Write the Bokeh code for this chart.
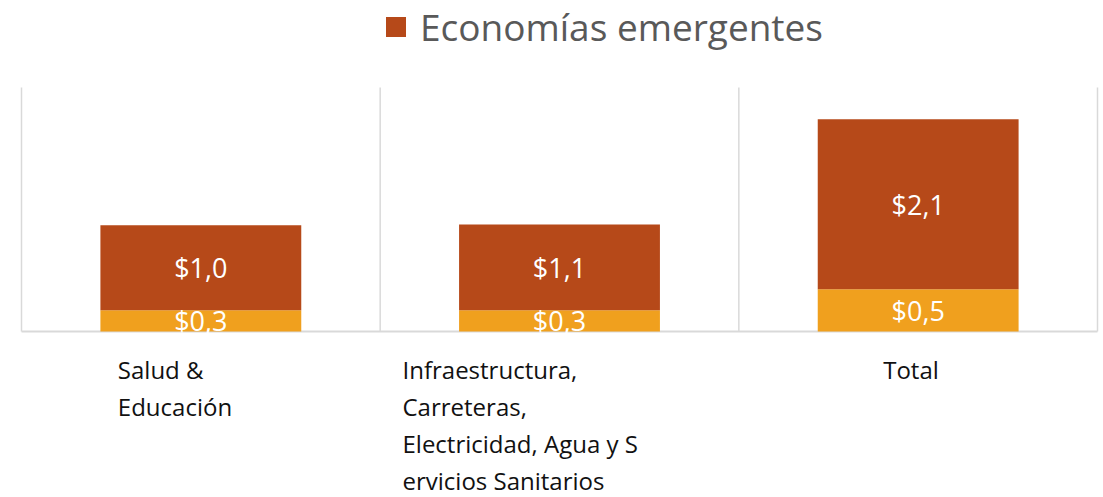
from bokeh.plotting import figure
from bokeh.models import ColumnDataSource, Range1d, Legend, LegendItem
from bokeh.core.properties import value
from bokeh.embed import file_html
from bokeh.resources import INLINE

# ---- data ----
categories = [
    "Salud &\nEducación",
    "Infraestructura,\nCarreteras,\nElectricidad, Agua y S\nervicios Sanitarios",
    "Total",
]
base_values = [0.26, 0.26, 0.52]
emerging_values = [1.045, 1.055, 2.09]
emerging_name = "Economías emergentes"
y_max = 3.0


def fmt(v):
    return "$" + f"{v:.1f}".replace(".", ",")


n = len(categories)
xs = [i + 0.5 for i in range(n)]
tops = [b + e for b, e in zip(base_values, emerging_values)]

src = ColumnDataSource(dict(
    x=xs,
    base=base_values,
    top=tops,
    base_mid=[b / 2 for b in base_values],
    em_mid=[b + e / 2 for b, e in zip(base_values, emerging_values)],
    base_lbl=[fmt(v) for v in base_values],
    em_lbl=[fmt(v) for v in emerging_values],
))

# ---- layout (pixels) ----
W, H = 1103, 497
PL, PR, PT, PB = 21, 1097, 87, 331      # plot area edges in canvas pixels
ppx = (PR - PL) / n
ppy = (PB - PT) / y_max
x_range = Range1d(-PL / ppx, n + (W - PR) / ppx)
y_range = Range1d(-(H - PB) / ppy, y_max + PT / ppy)

p = figure(width=W, height=H, x_range=x_range, y_range=y_range,
           output_backend="svg", toolbar_location=None,
           min_border=0, min_border_left=0, min_border_right=0,
           min_border_top=0, min_border_bottom=0)
p.outline_line_color = None
p.axis.visible = False
p.grid.visible = False
p.background_fill_color = "white"
p.border_fill_color = "white"

# category separators and baseline
sep = list(range(n + 1))
p.segment(x0=sep, y0=[0] * len(sep), x1=sep, y1=[y_max] * len(sep),
          line_color="#D9D9D9", line_width=1.5)
p.segment(x0=[0], y0=[0], x1=[n], y1=[0], line_color="#D9D9D9", line_width=2)

r_base = p.vbar(x="x", bottom=0, top="base", width=0.56, source=src,
                fill_color="#F0A01E", line_color=None)
r_em = p.vbar(x="x", bottom="base", top="top", width=0.56, source=src,
              fill_color="#B64919", line_color=None)

for ycol, tcol in (("base_mid", "base_lbl"), ("em_mid", "em_lbl")):
    p.text(x="x", y=ycol, text=tcol, source=src, text_align="center",
           text_baseline="middle", text_color="white",
           text_font=value("Open Sans"), text_font_size="27px")

legend = Legend(items=[LegendItem(label=emerging_name, renderers=[r_em])],
                location=(383, 445), orientation="horizontal",
                label_text_font="Open Sans", label_text_font_size="37px",
                label_text_color="#595959", glyph_width=25, glyph_height=25,
                label_standoff=12, padding=0, margin=0, spacing=0,
                border_line_color=None, background_fill_alpha=0)
p.add_layout(legend)

# category labels below the plot
label_left_px = [-83, -157, -35]
first_baseline_px = 38
line_step_px = 37
lx, ly, lt, lo = [], [], [], []
for i, cat in enumerate(categories):
    for j, line in enumerate(cat.split("\n")):
        lx.append(xs[i])
        ly.append(-(first_baseline_px + j * line_step_px) / ppy)
        lt.append(line)
        lo.append(label_left_px[i])
lsrc = ColumnDataSource(dict(x=lx, y=ly, text=lt, off=lo))
p.text(x="x", y="y", text="text", x_offset="off", source=lsrc,
       text_align="left", text_baseline="alphabetic", text_color="#111111",
       text_font=value("Open Sans"), text_font_size="24px")

open("out.html", "w").write(file_html(p, INLINE))
